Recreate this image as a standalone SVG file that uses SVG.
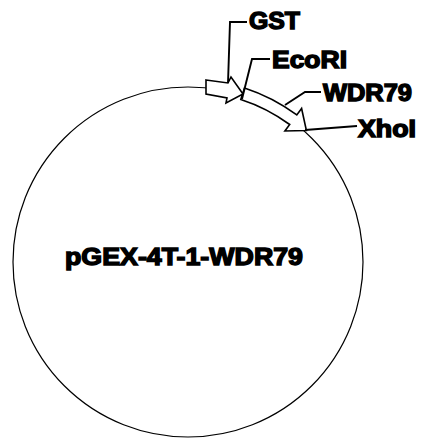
<svg xmlns="http://www.w3.org/2000/svg" width="422" height="439" viewBox="0 0 422 439">
<style>
.bb{fill:#fff;}
.ln{fill:none;stroke:#000;stroke-width:1.9;stroke-linejoin:miter;}
.ar{fill:#fff;stroke:#000;stroke-width:1.6;stroke-linejoin:miter;}
.lb{font-family:"Liberation Sans",Arial,sans-serif;font-weight:bold;font-size:23px;fill:#000;stroke:#000;stroke-width:1.4;}
.main{font-size:24px;}
</style>
<rect class="bb" x="0" y="0" width="422" height="439"/>
<g id="plasmid">
<circle cx="188" cy="262" r="175" fill="none" stroke="#000" stroke-width="1.2"/>
</g>
<g id="wdr79">
<path class="ar" d="M244.5,87.9 A183,183 0 0 1 296.8,114.9 L301.6,108.5 L306.4,130.5 L284.9,131.0 L289.7,124.5 A171,171 0 0 0 240.8,99.4 Z"/>
</g>
<g id="gst">
<polygon class="ar" points="206,80 228,83 231,77 243,94 226,103 227,98 206,94"/>
</g>
<g id="connectors">
<polyline class="ln" points="228,83 230,22 247,22"/>
<polyline class="ln" points="242,99 252,59 270,59"/>
<polyline class="ln" points="285,105 305,92 321,92"/>
<polyline class="ln" points="305,130 357,126"/>
</g>
<g id="labels">
<text class="lb" x="249" y="29" textLength="51" lengthAdjust="spacingAndGlyphs">GST</text>
<text class="lb" x="272" y="68" textLength="75" lengthAdjust="spacingAndGlyphs">EcoRI</text>
<text class="lb" x="323" y="101" textLength="89" lengthAdjust="spacingAndGlyphs">WDR79</text>
<text class="lb" x="358" y="137" textLength="58" lengthAdjust="spacingAndGlyphs">XhoI</text>
<text class="lb main" x="65" y="265" textLength="238" lengthAdjust="spacingAndGlyphs">pGEX-4T-1-WDR79</text>
</g>
</svg>
